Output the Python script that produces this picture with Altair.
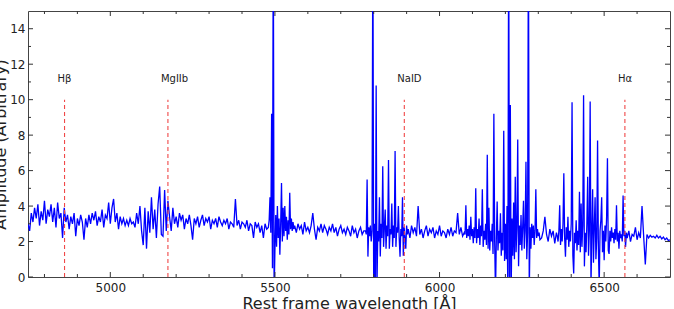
import altair as alt
import pandas as pd

# ---- spectrum values (segment start, step in Angstrom, values) ----
SEG1_START, SEG1_STEP = 4750, 5
SEG1 = [3.0, 2.6, 3.6, 3.1, 3.9, 3.3, 4.1, 2.9, 3.7, 3.2,
        4.3, 3.0, 3.8, 3.4, 4.1, 3.1, 3.9, 2.8, 4.2, 3.3,
        3.6, 2.2, 3.9, 3.1, 3.5, 2.7, 3.4, 3.0, 3.6, 2.3,
        3.3, 2.9, 3.5, 3.1, 2.1, 3.3, 2.8, 3.5, 3.0, 3.6,
        3.2, 3.7, 2.9, 3.4, 3.1, 3.8, 2.8, 3.5, 3.3, 4.2,
        3.0, 3.9, 4.4, 3.1, 3.6, 2.7, 3.4, 3.0, 3.3, 2.9,
        3.2, 2.9, 3.3, 3.0, 3.1, 2.8]

SEG2_START, SEG2_STEP = 5080, 5
SEG2 = [3.6, 3.0, 4.0, 2.6, 1.8, 3.9, 1.6, 3.7, 2.5, 4.5,
        2.7, 3.8, 2.2, 4.1, 5.1, 2.4, 2.3, 4.9, 2.6, 4.3,
        3.4, 2.6, 3.9, 3.0, 3.4, 2.8, 3.6, 3.2, 3.5, 2.7,
        3.3, 3.0, 3.5, 2.9, 2.1, 3.3, 3.0, 3.4, 2.8, 3.2,
        3.5, 2.9, 3.3, 3.1, 3.4, 2.7, 3.2, 3.0, 3.3, 2.8,
        3.4, 3.1, 2.9, 3.2, 3.0, 3.3, 2.7, 3.1, 3.0, 2.8,
        4.4, 2.9, 3.2, 2.7, 3.1, 3.0, 2.8, 3.2, 2.6, 3.0,
        2.9, 2.2, 3.1, 2.8, 3.0, 2.5, 2.9, 2.2, 3.0, 2.7]

SEG3_START, SEG3_STEP = 5480, 2.5
SEG3 = [2.8, 3.2, 4.5, 2.5, 9.2, 0.5, 20, -1, 1.5, 3.5,
        1.7, 4.0, 2.2, 3.3, 1.25, 3.0, 5.3, 2.0, 3.9, 2.3,
        4.0, 2.6, 3.4, 2.1, 3.2, 2.4, 4.75, 2.7, 3.3, 2.6,
        3.1, 2.7]

SEG4_START, SEG4_STEP = 5560, 5
SEG4 = [2.9, 2.5, 3.0, 2.7, 2.9, 2.4, 3.1, 2.6, 2.8, 2.5,
        2.9, 3.6, 2.7, 2.1, 2.8, 2.6, 3.0, 2.5, 2.9, 2.7,
        2.4, 2.8, 2.6, 3.0, 2.5, 2.8, 2.3, 2.7, 2.9, 2.5,
        2.7, 2.4, 2.8, 2.6, 2.3, 2.9, 2.5, 2.7, 2.2, 2.6,
        2.8, 2.4, 2.6]

SEG5_START, SEG5_STEP = 5775, 2.5
SEG5 = [2.6, 2.4, 5.5, 1.15, 2.8, 2.3, 2.9, 2.0, 2.6, 20,
        -1, 3.0, -1, 10.8, -0.5, 2.6, 2.0, 4.5, 1.15, 3.0,
        2.2, 6.25, 1.7, 2.8, 3.8, 1.6, 2.9, 2.3, 6.6, 1.6,
        2.7, 2.4, 4.15, 1.7, 2.9, 2.2, 7.1, 1.7, 2.8, 2.5,
        4.0, 2.2, 1.15, 2.7, 2.3, 4.5, 1.2, 2.8, 2.2, 1.6,
        2.9, 2.4]

SEG6_START, SEG6_STEP = 5905, 5
SEG6 = [2.7, 2.2, 2.9, 2.5, 2.8, 2.3, 4.0, 2.4, 2.7, 2.2,
        2.6, 2.9, 2.3, 2.7, 2.5, 2.8, 2.2, 2.6, 2.4, 2.9,
        2.3, 2.6, 2.5, 2.2, 2.7, 2.4, 2.8, 2.3, 2.6, 2.5,
        3.6, 2.4, 2.8, 2.3, 2.5]

SEG7_START, SEG7_STEP = 6077.5, 2.5
SEG7 = [2.4, 4.05, 2.2, 2.7, 2.3, 2.9, 2.1, 3.4, 2.3, 2.7,
        1.9, 2.8, 2.2, 5.0, 1.9, 2.7, 2.2, 3.3, 1.8, 2.9,
        2.3, 4.95, 1.7, 2.6, 2.1, 3.0, 1.8, 6.9, 1.6, 3.9,
        1.5, 2.6, 2.0, 3.0, 1.3, 9.2, 2.0, -1, 2.2, 4.25,
        1.5, 2.6, 1.9, 3.6, 1.2, 2.5, 1.5, 8.25, 0.9, 3.0,
        1.0, 4.0, -1, 20, -1, 9.7, -1, 3.3, 1.2, 4.2,
        1.0, 5.65, 1.4, 2.8, 7.75, 0.6, 2.9, 1.8, 3.5, 1.5,
        2.8, 4.3, 1.6, 2.6, 6.5, 1.0, 2.5, 20, -1, 2.8,
        1.6, 3.0, 2.2, 2.9, 1.8, 2.6, 4.95, 2.2, 2.7, 2.3,
        2.5, 2.1]

SEG8_START, SEG8_STEP = 6310, 5
SEG8 = [2.2, 2.6, 3.4, 2.4, 2.0, 2.7, 2.3, 2.6, 1.9, 2.5]

SEG9_START, SEG9_STEP = 6357.5, 2.5
SEG9 = [2.3, 2.0, 2.6, 4.05, 1.8, 2.7, 2.0, 3.0, 5.85, 2.2,
        1.15, 2.8, 2.1, 3.4, 1.7, 2.6, 2.0, 3.0, 9.85, 1.2,
        0.2, 2.5, 1.9, 3.2, 1.5, 2.6, 1.8, 4.8, 1.4, 4.15,
        1.7, 2.9, 10.25, 0.6, 2.5, 1.4, 3.0, 5.65, 1.2, 2.6,
        9.9, -0.5, 2.4, 4.95, 0.8, 2.8, 4.5, 1.0, 2.2, 7.7,
        1.6, -0.5, 2.6, 3.2, 4.5, 1.4, 2.6, 0.95, 2.9, 2.0,
        3.4, 6.7, 1.5, 1.3, 2.6, 2.0, 2.8, 2.2, 2.5, 1.9,
        2.7, 2.1, 4.05, 2.0, 2.5, 1.6, 2.6, 2.2, 2.4, 2.0,
        4.6, 2.3, 2.6, 1.7, 2.5, 2.2]

SEG10_START, SEG10_STEP = 6575, 5
SEG10 = [2.6, 2.0, 2.4, 2.3, 2.8, 2.1, 2.5, 2.2, 4.0, 2.3,
         0.7, 2.4, 2.2, 2.35, 2.25, 2.3, 2.2, 2.35, 2.2, 2.3,
         2.15, 2.25, 2.1, 2.2, 2.05, 2.1]

SEGMENTS = [
    (SEG1_START, SEG1_STEP, SEG1), (SEG2_START, SEG2_STEP, SEG2),
    (SEG3_START, SEG3_STEP, SEG3), (SEG4_START, SEG4_STEP, SEG4),
    (SEG5_START, SEG5_STEP, SEG5), (SEG6_START, SEG6_STEP, SEG6),
    (SEG7_START, SEG7_STEP, SEG7), (SEG8_START, SEG8_STEP, SEG8),
    (SEG9_START, SEG9_STEP, SEG9), (SEG10_START, SEG10_STEP, SEG10),
]

# ---- spectral line markers ----
LINE_NAMES = ["H\u03b2", "MgIIb", "NaID", "H\u03b1"]
LINE_WAVES = [4861, 5175, 5893, 6563]
LINE_TOP = 10
LABEL_Y = 11

# ---- axes ----
X_DOMAIN = [4750, 6700]
Y_DOMAIN = [0, 15]
X_MAJOR = [5000, 5500, 6000, 6500]
X_MINOR = [4800, 4900, 5100, 5200, 5300, 5400, 5600, 5700, 5800, 5900,
           6100, 6200, 6300, 6400, 6600]
Y_MAJOR = [0, 2, 4, 6, 8, 10, 12, 14]
Y_MINOR = [1, 3, 5, 7, 9, 11, 13]

W, H = 642, 266
FONT = "DejaVu Sans"

rows = []
for start, step, vals in SEGMENTS:
    for i, v in enumerate(vals):
        rows.append({"wave": start + i * step, "flux": v})
spec = pd.DataFrame(rows).sort_values("wave")

xs = alt.Scale(domain=X_DOMAIN, nice=False, zero=False)
ys = alt.Scale(domain=Y_DOMAIN, nice=False)

X_AXIS = alt.Axis(values=X_MAJOR, format="d", ticks=False, domain=False, grid=False,
                  labelOverlap=False,
                  labelFontSize=12, labelFont=FONT, labelColor="#222", labelPadding=5,
                  title="Rest frame wavelength [\u00c5]", titleFont=FONT,
                  titleFontSize=16, titleFontWeight="normal", titleColor="#222",
                  titleY=18, titleBaseline="top")
Y_AXIS = alt.Axis(values=Y_MAJOR, format="d", ticks=False, domain=False, grid=False,
                  labelOverlap=False,
                  labelFontSize=12, labelFont=FONT, labelColor="#222", labelPadding=3,
                  title="Amplitude (Arbitrary)", titleFont=FONT, titleFontSize=16,
                  titleFontWeight="normal", titleColor="#222", titleAngle=270,
                  titleX=-20, titleY=H / 2, titleAlign="center",
                  titleBaseline="bottom")


def X(field):
    return alt.X(field, scale=xs, axis=X_AXIS, title="Rest frame wavelength [\u00c5]")


def Y(field):
    return alt.Y(field, scale=ys, axis=Y_AXIS, title="Amplitude (Arbitrary)")


line = alt.Chart(spec).mark_line(color="#0000ff", strokeWidth=1.3, clip=True).encode(
    x=X("wave:Q"), y=Y("flux:Q"))

lines_df = pd.DataFrame({"wave": LINE_WAVES, "name": LINE_NAMES,
                         "y0": [0] * 4, "y1": [LINE_TOP] * 4, "ly": [LABEL_Y] * 4})

markers = alt.Chart(lines_df).mark_rule(color="#f04848", strokeWidth=1.1,
                                        strokeDash=[4, 3]).encode(
    x=X("wave:Q"), y=Y("y0:Q"), y2="y1:Q")

labels = alt.Chart(lines_df).mark_text(align="left", baseline="middle", dx=-7, dy=-3,
                                       fontSize=10, font=FONT, color="#222").encode(
    x=X("wave:Q"), y=Y("ly:Q"), text="name:N")


def xticks(vals, length):
    d = pd.DataFrame({"wave": vals})
    bottom = alt.Chart(d).mark_rule(color="#333", strokeWidth=1).encode(
        x=X("wave:Q"), y=alt.value(H), y2=alt.value(H - length))
    top = alt.Chart(d).mark_rule(color="#333", strokeWidth=1).encode(
        x=X("wave:Q"), y=alt.value(0), y2=alt.value(length))
    return [bottom, top]


def yticks(vals, length):
    d = pd.DataFrame({"flux": vals})
    left = alt.Chart(d).mark_rule(color="#333", strokeWidth=1).encode(
        y=Y("flux:Q"), x=alt.value(0), x2=alt.value(length))
    right = alt.Chart(d).mark_rule(color="#333", strokeWidth=1).encode(
        y=Y("flux:Q"), x=alt.value(W), x2=alt.value(W - length))
    return [left, right]


tick_layers = xticks(X_MAJOR, 5) + xticks(X_MINOR, 3) + yticks(Y_MAJOR, 5) + yticks(Y_MINOR, 3)

chart = alt.layer(line, markers, labels, *tick_layers).properties(
    width=W, height=H,
    autosize=alt.AutoSizeParams(type="none"),
    padding={"left": 28, "top": 11, "right": 4, "bottom": 32},
    background="white",
).configure_view(stroke="#444", strokeWidth=1)

chart.save("out.html", embed_options={"renderer": "svg", "actions": False})
